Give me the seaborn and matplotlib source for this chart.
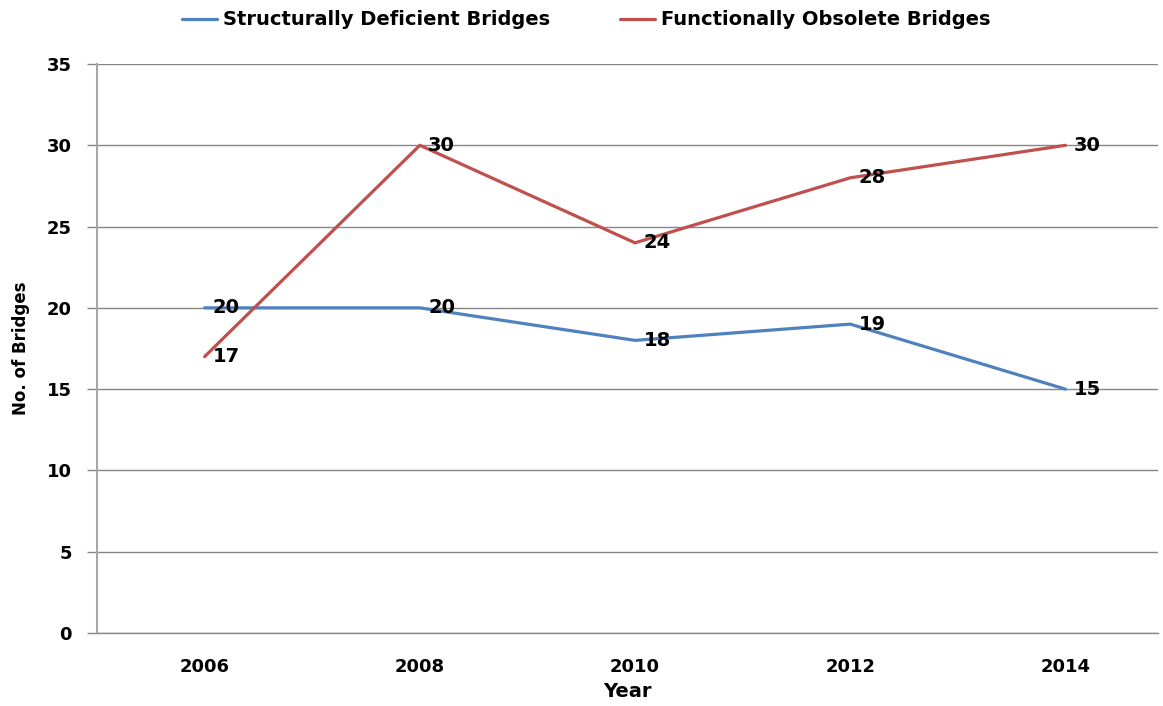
import matplotlib
matplotlib.use("Agg")
import matplotlib.pyplot as plt
import seaborn as sns
import pandas as pd

years = ["2006", "2008", "2010", "2012", "2014"]
structurally_deficient = [20, 20, 18, 19, 15]
functionally_obsolete = [17, 30, 24, 28, 30]
series_names = ["Structurally Deficient Bridges", "Functionally Obsolete Bridges"]
colors = ["#4F81BD", "#C0504D"]

df = pd.DataFrame({
    "Year": years * 2,
    "Bridges": structurally_deficient + functionally_obsolete,
    "Series": [series_names[0]] * len(years) + [series_names[1]] * len(years),
})

sns.set_theme(style="white")
plt.rcParams["font.family"] = ["DejaVu Sans"]
plt.rcParams["text.color"] = "black"
plt.rcParams["xtick.color"] = "black"
plt.rcParams["ytick.color"] = "black"
plt.rcParams["axes.labelcolor"] = "black"

fig = plt.figure(figsize=(11.63, 7.06), dpi=100)
ax = fig.add_axes([97 / 1163, 73 / 706, (1158 - 97) / 1163, (633 - 64) / 706])

sns.lineplot(data=df, x="Year", y="Bridges", hue="Series", palette=colors,
             linewidth=2.3, ax=ax, sort=False, legend=True)

for name, vals in zip(series_names, [structurally_deficient, functionally_obsolete]):
    for i, v in enumerate(vals):
        ax.annotate(str(v), (i, v), xytext=(6, 0), textcoords="offset points",
                    ha="left", va="center", fontsize=14, fontweight="bold",
                    color="black")

ax.set_ylim(0, 35)
ax.set_yticks(range(0, 36, 5))
ax.set_xlim(-0.5, 4.43)
ax.grid(axis="y", color="#868686", linewidth=1)
ax.set_axisbelow(True)
for s in ["top", "right"]:
    ax.spines[s].set_visible(False)
ax.spines["left"].set_color("#A6A6A6")
ax.spines["left"].set_linewidth(1.5)
ax.spines["bottom"].set_color("#868686")
ax.spines["bottom"].set_linewidth(1)
ax.tick_params(axis="y", which="major", left=True, length=7, width=1, color="#868686",
               labelcolor="black", labelsize=13, pad=11)
ax.tick_params(axis="x", bottom=False, labelsize=13, labelcolor="black", pad=12)
for lab in ax.get_xticklabels() + ax.get_yticklabels():
    lab.set_fontweight("bold")
ax.set_xlabel("Year", fontsize=14, fontweight="bold", labelpad=4, color="black")
ax.set_ylabel("No. of Bridges", fontsize=12, fontweight="bold", labelpad=12, color="black")

handles, labels = ax.get_legend_handles_labels()
ax.get_legend().remove()
leg = fig.legend(handles, labels, loc="upper center", bbox_to_anchor=(0.504, 1.01),
                 ncol=2, frameon=False, handlelength=1.8, handletextpad=0.3,
                 columnspacing=3.6, prop={"weight": "bold", "size": 14})
for t in leg.get_texts():
    t.set_color("black")

fig.savefig("out.png", dpi=100)
